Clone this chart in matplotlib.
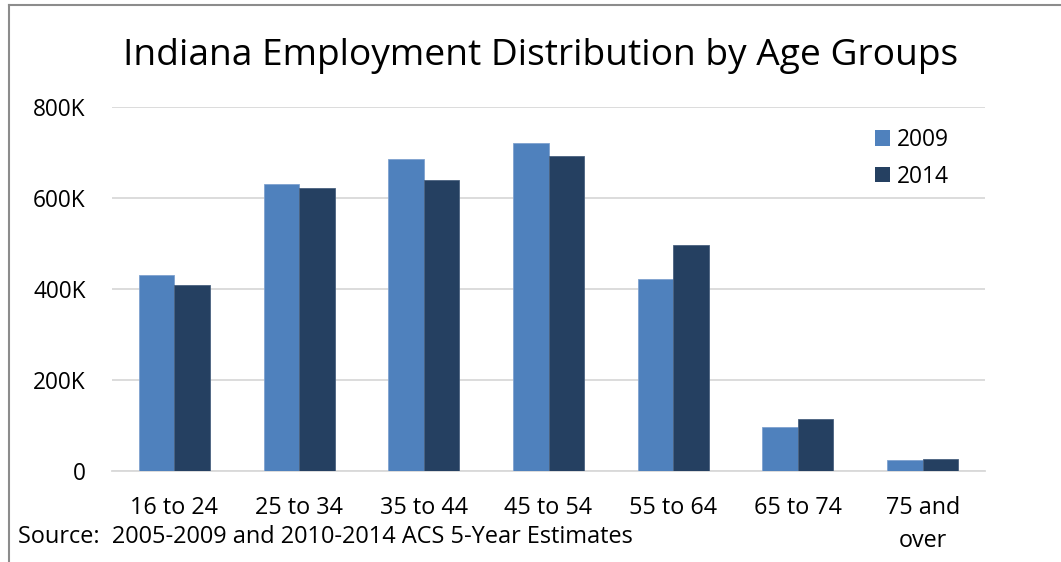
import matplotlib
matplotlib.use("Agg")
import matplotlib.pyplot as plt
from matplotlib.lines import Line2D
from matplotlib.patches import Patch
import numpy as np

categories = ["16 to 24", "25 to 34", "35 to 44", "45 to 54", "55 to 64", "65 to 74", "75 and\nover"]
values_2009 = [429600, 629800, 685500, 720000, 420800, 95700, 23000]
values_2014 = [407600, 621700, 639300, 692000, 495600, 113300, 24600]
series_labels = ["2009", "2014"]
ytick_values = [0, 200000, 400000, 600000, 800000]
ytick_labels = ["0", "200K", "400K", "600K", "800K"]
title = "Indiana Employment Distribution by Age Groups"
source = "Source:  2005-2009 and 2010-2014 ACS 5-Year Estimates"

colors = ["#4f81bd", "#254061"]
FONT = ["Open Sans", "DejaVu Sans"]
plt.rcParams["font.family"] = FONT

W, H = 1061, 562
fig = plt.figure(figsize=(W / 100, H / 100), dpi=100)
fig.patch.set_facecolor("white")

ax_left, ax_right = 112, 985
ax_top, ax_bottom = 107, 470.5
ax = fig.add_axes([ax_left / W, (H - ax_bottom) / H, (ax_right - ax_left) / W, (ax_bottom - ax_top) / H])

x = np.arange(len(categories))
bw = 0.285
ax.bar(x - bw / 2, values_2009, bw, color=colors[0], label=series_labels[0], zorder=3,
       edgecolor="#7fa2cf", linewidth=0.6)
ax.bar(x + bw / 2, values_2014, bw, color=colors[1], label=series_labels[1], zorder=3,
       edgecolor="#4a6280", linewidth=0.6)

ax.set_xlim(-0.5, len(categories) - 0.5)
ax.set_ylim(0, 800000)
ax.set_yticks(ytick_values)
ax.set_yticklabels(ytick_labels)
ax.set_xticks(x)
ax.set_xticklabels(categories, linespacing=1.5)
ax.tick_params(axis="x", length=0, labelsize=16.8, colors="black", pad=18.5)
ax.tick_params(axis="y", length=0, labelsize=16.3, colors="black", pad=19)
ax.grid(axis="y", color="#d9d9d9", linewidth=1.3, zorder=0)
for s in ["top", "right", "left"]:
    ax.spines[s].set_visible(False)
ax.spines["bottom"].set_color("#d9d9d9")
ax.spines["bottom"].set_linewidth(1.3)
ax.set_facecolor("white")

fig.text(541 / W, (H - 65) / H, title, ha="center", va="baseline", fontsize=26.7, color="black")
fig.text(18 / W, (H - 543) / H, source, ha="left", va="baseline", fontsize=16.9, color="black")

handles = [Patch(facecolor=c) for c in colors]
fig.legend(handles, series_labels, loc="upper left", bbox_to_anchor=(875 / W, (H - 128) / H),
           frameon=False, fontsize=16.4, handlelength=0.65, handleheight=0.65,
           handletextpad=0.3, labelspacing=0.55, borderpad=0, borderaxespad=0)

# partial outer frame (left and top edges)
fig.add_artist(Line2D([9 / W, 9 / W], [0, (H - 5) / H], transform=fig.transFigure,
                      color="#8c8c8c", linewidth=1.5))
fig.add_artist(Line2D([9 / W, 1], [(H - 5) / H, (H - 5) / H], transform=fig.transFigure,
                      color="#8c8c8c", linewidth=1.5))

fig.savefig("out.png", dpi=100, facecolor="white")
